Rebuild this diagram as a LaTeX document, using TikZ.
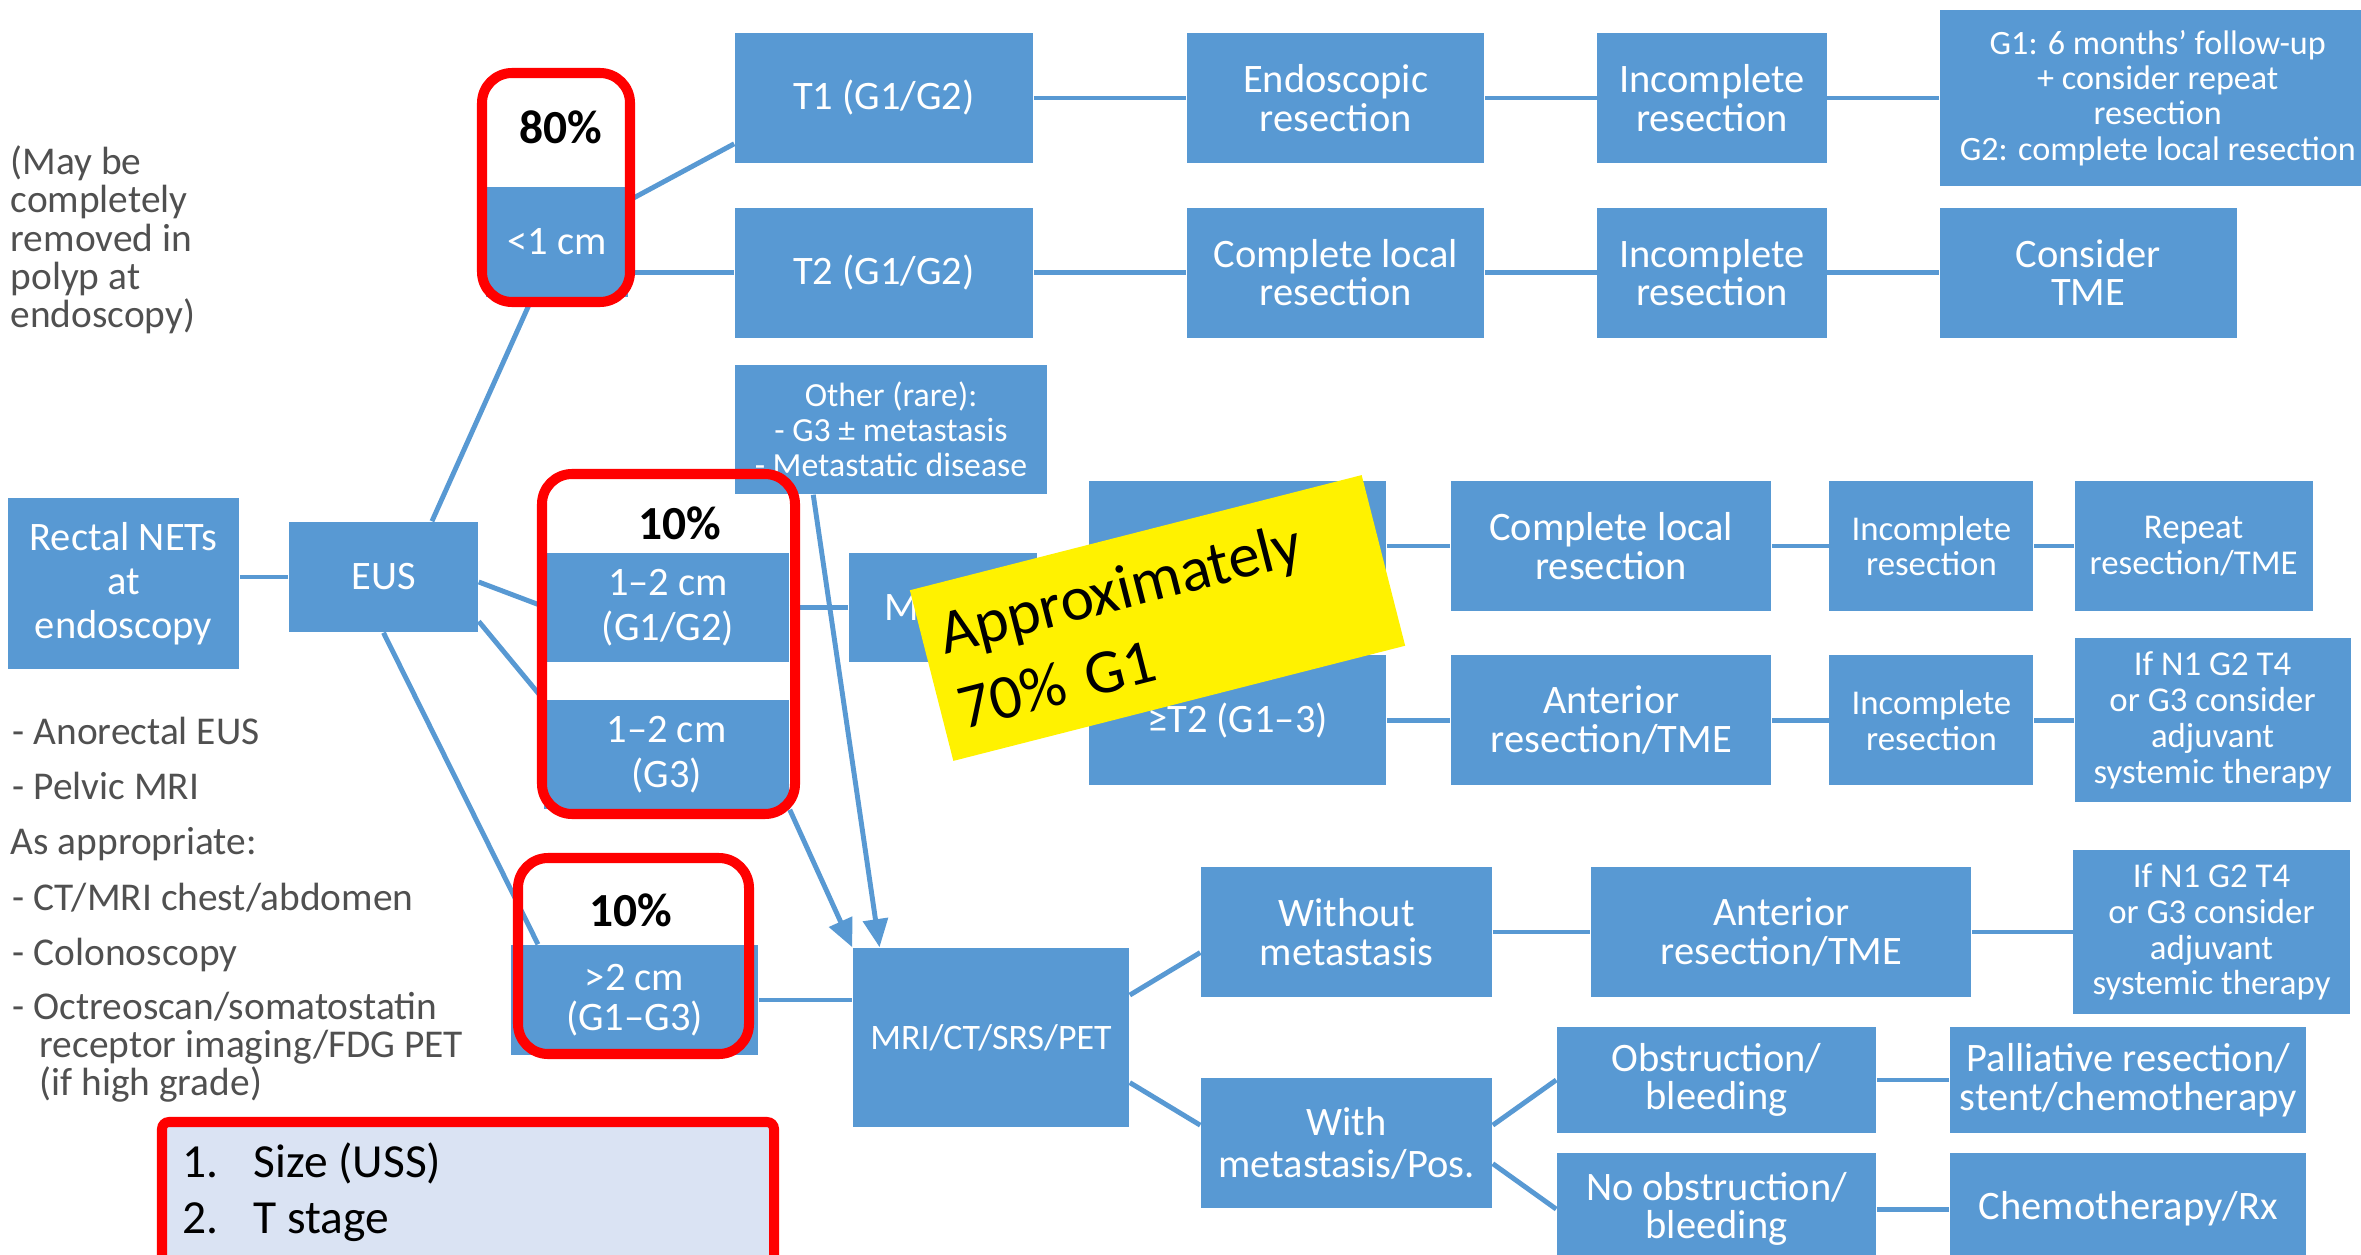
\documentclass[tikz,border=0pt]{standalone}
\usepackage{fontspec}
\setmainfont{Carlito}
\usepackage{xcolor}
\usepackage{tikz}
\usetikzlibrary{arrows.meta,positioning}

\definecolor{netblue}{RGB}{88,153,211}
\definecolor{critfill}{RGB}{218,227,243}
\definecolor{notegray}{RGB}{80,80,80}

\begin{document}
\begin{tikzpicture}[x=0.01cm, y=-0.01cm, >={Triangle[length=8pt,width=7pt]}]
	\tikzstyle{box}=[rectangle,fill=netblue,text=white,align=center,inner sep=0pt,minimum height=1.3cm,font=\fontsize{11.5}{11}\selectfont]
	\tikzstyle{smallfont}=[font=\fontsize{9.9}{10.2}\selectfont]
	\tikzstyle{every edge}=[draw=netblue,line width=1.4pt]
	\tikzstyle{hl}=[draw=red,line width=2.85pt,rounded corners=0.3cm]
	\tikzstyle{pct}=[text=black,font=\bfseries\fontsize{13.5}{13.5}\selectfont]
	\tikzstyle{note}=[text=notegray,align=left,inner sep=0pt,font=\fontsize{11.2}{10.9}\selectfont]

	\useasboundingbox (0,0) rectangle (2361,1255);
	\clip (0,0) rectangle (2361,1255);

	% work-up column
	\node[box, minimum width=2.31cm, minimum height=1.71cm, font=\fontsize{11.5}{12.5}\selectfont] (nets) at (123.5,583.5) {Rectal NETs\\at\\endoscopy};
	\node[box, minimum width=1.89cm, minimum height=1.1cm] (eus) at (383.5,577) {EUS};
	\node[box, minimum width=1.42cm, minimum height=1.1cm] (lt) at (557,242) {<1 cm};
	\node[box, minimum width=2.42cm, minimum height=1.09cm, font=\fontsize{11.5}{12.8}\selectfont] (mid12) at (668,607.5) {1–2 cm\\(G1/G2)};
	\node[box, minimum width=2.45cm, minimum height=1.09cm, font=\fontsize{11.5}{12.8}\selectfont] (mid3) at (666.5,754.5) {1–2 cm\\(G3)};
	\node[box, minimum width=2.47cm, minimum height=1.1cm, font=\fontsize{11.5}{11.5}\selectfont] (gt2) at (634.5,1000) {>2 cm\\(G1–G3)};

	% < 1 cm
	\node[box, minimum width=2.98cm] (t1) at (884,98) {T1 (G1/G2)};
	\node[box, minimum width=2.97cm] (endo) [right of=t1, node distance=4.515cm] {Endoscopic\\resection};
	\node[box, minimum width=2.29cm] (inc1) [right of=endo, node distance=3.76cm] {Incomplete\\resection};
	\node[box, minimum width=4.36cm, minimum height=1.75cm, font=\fontsize{9.7}{10}\selectfont] (g1box) [right of=inc1, node distance=4.455cm] {G1: 6 months’ follow-up\\+ consider repeat\\resection\\G2: complete local resection};

	\node[box, minimum width=2.98cm] (t2) [below of=t1, node distance=1.745cm] {T2 (G1/G2)};
	\node[box, minimum width=2.97cm] (cpl2) [right of=t2, node distance=4.515cm] {Complete local\\resection};
	\node[box, minimum width=2.29cm] (inc2) [right of=cpl2, node distance=3.76cm] {Incomplete\\resection};
	\node[box, minimum width=2.97cm] (tme2) [right of=inc2, node distance=3.76cm] {Consider\\TME};

	\node[box, minimum width=3.12cm, minimum height=1.29cm, font=\fontsize{9.6}{9.9}\selectfont] (other) at (891,429.5) {Other (rare):\\- G3 ± metastasis\\- Metastatic disease};

	% 1-2 cm
	\node[box, minimum width=1.88cm, minimum height=1.09cm, text width=1.18cm, align=left] (mri1) [right of=mid12, node distance=2.75cm] {MRI};
	\node[box, minimum width=2.97cm] (let1) at (1237.5,546) {};
	\node[box, minimum width=3.2cm] (cpl3) [right of=let1, node distance=3.735cm] {Complete local\\resection};
	\node[box, smallfont, minimum width=2.04cm] (inc3) [right of=cpl3, node distance=3.2cm] {Incomplete\\resection};
	\node[box, smallfont, minimum width=2.38cm] (rep3) [right of=inc3, node distance=2.62cm] {Repeat\\resection/TME};

	\node[box, minimum width=2.97cm] (get2) [below of=let1, node distance=1.74cm] {≥T2 (G1–3)};
	\node[box, minimum width=3.2cm] (ant4) [right of=get2, node distance=3.735cm] {Anterior\\resection/TME};
	\node[box, smallfont, minimum width=2.04cm] (inc4) [right of=ant4, node distance=3.2cm] {Incomplete\\resection};
	\node[box, smallfont, minimum width=2.76cm, minimum height=1.64cm] (adj4) [right of=inc4, node distance=2.81cm] {If N1 G2 T4\\or G3 consider\\adjuvant\\systemic therapy};

	% > 2 cm
	\node[box, minimum width=2.76cm, minimum height=1.79cm, font=\fontsize{10.2}{11}\selectfont] (mrict) at (991,1037.5) {MRI/CT/SRS/PET};
	\node[box, minimum width=2.91cm] (wo) at (1346.5,932) {Without\\metastasis};
	\node[box, minimum width=3.8cm] (ant5) [right of=wo, node distance=4.345cm] {Anterior\\resection/TME};
	\node[box, smallfont, minimum width=2.76cm, minimum height=1.63cm] (adj5) [right of=ant5, node distance=4.3cm] {If N1 G2 T4\\or G3 consider\\adjuvant\\systemic therapy};
	\node[box, minimum width=2.91cm, font=\fontsize{11.5}{11.8}\selectfont] (wi) [below of=wo, node distance=2.11cm] {With\\metastasis/Pos.};
	\node[box, minimum width=3.19cm, minimum height=1.06cm] (obs) at (1716.5,1080) {Obstruction/\\bleeding};
	\node[box, minimum width=3.56cm, minimum height=1.06cm] (pal) [right of=obs, node distance=4.115cm] {Palliative resection/\\stent/chemotherapy};
	\node[box, minimum width=3.19cm, minimum height=1.12cm] (nobs) [below of=obs, node distance=1.29cm] {No obstruction/\\bleeding};
	\node[box, minimum width=3.56cm, minimum height=1.12cm] (chemo) [right of=nobs, node distance=4.115cm] {Chemotherapy/Rx};

	\path
	(eus.west) edge (eus.west -| nets.east)
	(eus.49) edge (lt.246)
	(eus.-3) edge (mid12.west)
	(eus.-25) edge (mid3.north west)
	(eus.south) edge (gt2.150);

	\path
	(lt.30) edge (t1.197)
	(t2.west) edge (t2.west -| lt.east)
	(t1) edge (endo)
	(endo) edge (inc1)
	(inc1) edge (g1box)
	(t2) edge (cpl2)
	(cpl2) edge (inc2)
	(inc2) edge (tme2);

	\path
	(mid12) edge (mri1)
	(let1) edge (cpl3)
	(cpl3) edge (inc3)
	(inc3) edge (rep3)
	(get2) edge (ant4)
	(ant4) edge (inc4)
	(inc4) edge (adj4);

	\path
	(gt2.east) edge (gt2.east -| mrict.west)
	(mrict.17) edge (wo.188)
	(mrict.-18) edge (wi.173)
	(wo) edge (ant5)
	(ant5) edge (adj5)
	(wi.7) edge (obs.west)
	(wi.-8) edge (nobs.west)
	(obs) edge (pal)
	(nobs) edge (chemo);

	\path
	(other.220) edge[->] (mrict.141)
	(mid3.south east) edge[->] (mrict.north west);

	% notes on the left
	\node[note, anchor=west] (polyp) at (10,240) {(May be\\completely\\removed in\\polyp at\\endoscopy)};
	\node[note, anchor=base west] (eusi) at (12,744) {- Anorectal EUS};
	\node[note, anchor=base west] (mrii) at (12,799) {- Pelvic MRI};
	\node[note, anchor=base west] (asap) at (10,854) {As appropriate:};
	\node[note, anchor=base west] (ctmr) at (12,910) {- CT/MRI chest/abdomen};
	\node[note, anchor=base west] (colo) at (12,965) {- Colonoscopy};
	\node[note, anchor=base west] (octr) at (12,1019) {- Octreoscan/somatostatin};
	\node[note, anchor=base west] (rcpt) at (39,1057) {receptor imaging/FDG PET};
	\node[note, anchor=base west] (hgrd) at (39,1095) {(if high grade)};

	% highlights
	\draw[hl] (482,73) rectangle (630,302);
	\node[pct] (p80) at (561,127) {80\%};
	\draw[hl] (542,474) rectangle (795,814);
	\node[pct] (p10a) at (680,523) {10\%};
	\draw[hl] (518,858) rectangle (749,1054);
	\node[pct] (p10b) at (631,910) {10\%};

	\node[fill=yellow, rotate=14.3, minimum width=4.66cm, minimum height=1.76cm, text width=4.29cm, inner xsep=0.185cm, align=left, font=\fontsize{17.9}{22}\selectfont] (g1note) at (1157.5,618) {Approximately\\70\% G1};

	\draw[hl, rounded corners=2pt, fill=critfill] (162,1122) rectangle (774,1300);
	\node[anchor=base west, inner sep=0pt, font=\fontsize{13.5}{16}\selectfont] (size) at (182,1177) {\makebox[0.71cm][l]{1.}Size (USS)};
	\node[anchor=base west, inner sep=0pt, font=\fontsize{13.5}{16}\selectfont] (tstage) at (182,1233) {\makebox[0.71cm][l]{2.}T stage};
\end{tikzpicture}
\end{document}
